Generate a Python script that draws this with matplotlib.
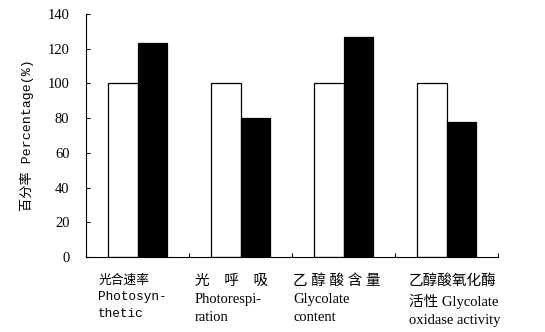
import matplotlib
matplotlib.use('Agg')
import matplotlib.pyplot as plt
import numpy as np

plt.rcParams['font.family'] = ['Liberation Serif', 'Noto Sans CJK SC', 'DejaVu Sans']
plt.rcParams['font.size'] = 10

categories = ['光合速率\nPhotosyn-\nthetic',
              '光　呼　吸\nPhotorespi-\nration',
              '乙 醇 酸 含 量\nGlycolate\ncontent',
              '乙醇酸氧化酶\n活性 Glycolate\noxidase activity']
control = [100, 100, 100, 100]
treated = [123, 80, 127, 78]

# left edge of each category label, relative to the category centre
label_dx = [-0.383, -0.442, -0.49, -0.365]

fig = plt.figure(figsize=(5.45, 3.32), dpi=100)
ax = fig.add_axes([0.158, 0.226, 0.756, 0.732])

x = np.arange(len(categories))
w = 0.29
ax.bar(x - w / 2, control, w, color='white', edgecolor='black', linewidth=0.9)
ax.bar(x + w / 2, treated, w, color='black', edgecolor='black', linewidth=0.9)

ax.set_xlim(-0.5, 3.5)
ax.set_ylim(0, 140)
ax.set_yticks(np.arange(0, 141, 20))
ax.set_xticks(np.arange(-0.5, 3.6, 1.0))
ax.set_xticklabels([])
ax.tick_params(axis='both', direction='in', length=3, width=0.8, labelsize=10.5)
ax.tick_params(axis='y', pad=12)
for s in ['top', 'right']:
    ax.spines[s].set_visible(False)

for i, lab in enumerate(categories):
    if i == 0:
        fam = ['Liberation Mono', 'Noto Sans CJK SC']
        fs = 9.2
    else:
        fam = ['Liberation Serif', 'Noto Sans CJK SC']
        fs = 10.5
    ax.text(i + label_dx[i], -10, lab, ha='left', va='top', family=fam,
            fontsize=fs, linespacing=1.5)

ax.set_ylabel('百分率 Percentage(%)', family=['Liberation Mono', 'Noto Sans CJK SC'],
              fontsize=9.5, labelpad=10)

plt.savefig('out.png', dpi=100)
